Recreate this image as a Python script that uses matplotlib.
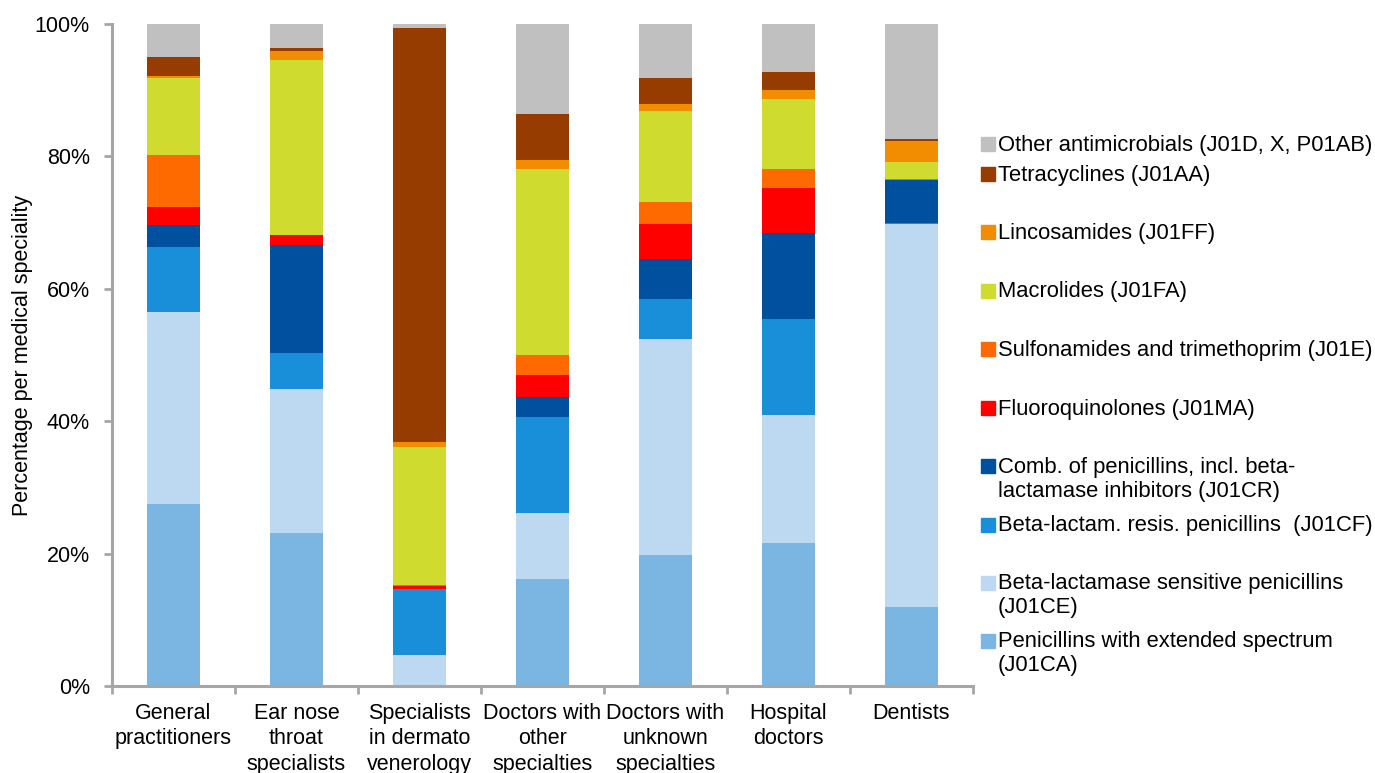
import numpy as np
import matplotlib
matplotlib.use("Agg")
import matplotlib.pyplot as plt
from matplotlib.patches import Rectangle

plt.rcParams["font.family"] = ["Liberation Sans", "DejaVu Sans"]

categories = ["General\npractitioners", "Ear nose\nthroat\nspecialists",
              "Specialists\nin dermato\nvenerology", "Doctors with\nother\nspecialties",
              "Doctors with\nunknown\nspecialties", "Hospital\ndoctors", "Dentists"]

# stacked from bottom to top, percentages per speciality
ext_spectrum   = [27.5, 23.1, 0.0, 16.1, 19.8, 21.6, 12.0]
beta_sensitive = [29.0, 21.7, 4.7, 10.1, 32.6, 19.3, 57.8]
beta_resistant = [9.8, 5.5, 9.9, 14.5, 6.1, 14.5, 0.1]
comb_penicill  = [3.3, 16.3, 0.1, 2.9, 6.0, 13.0, 6.6]
fluoroquinol   = [2.8, 1.5, 0.4, 3.4, 5.3, 6.9, 0.0]
sulfonamides   = [7.8, 0.1, 0.1, 3.0, 3.3, 2.8, 0.1]
macrolides     = [11.6, 26.3, 20.9, 28.1, 13.7, 10.6, 2.5]
lincosamides   = [0.3, 1.4, 0.8, 1.4, 1.1, 1.4, 3.3]
tetracyclines  = [2.9, 0.5, 62.5, 6.9, 3.9, 2.6, 0.2]
other_antimic  = [5.0, 3.7, 0.8, 13.6, 8.2, 7.3, 17.5]

series = [ext_spectrum, beta_sensitive, beta_resistant, comb_penicill, fluoroquinol,
          sulfonamides, macrolides, lincosamides, tetracyclines, other_antimic]
labels = ["Penicillins with extended spectrum\n(J01CA)",
          "Beta-lactamase sensitive penicillins\n(J01CE)",
          "Beta-lactam. resis. penicillins  (J01CF)",
          "Comb. of penicillins, incl. beta-\nlactamase inhibitors (J01CR)",
          "Fluoroquinolones (J01MA)",
          "Sulfonamides and trimethoprim (J01E)",
          "Macrolides (J01FA)",
          "Lincosamides (J01FF)",
          "Tetracyclines (J01AA)",
          "Other antimicrobials (J01D, X, P01AB)"]
colors = ["#7BB5E2", "#BDD9F1", "#1A8FD9", "#0050A0", "#FF0000",
          "#FF6A00", "#CFDB2E", "#F28C00", "#963C00", "#C0C0C0"]

W, H = 1375, 773
fig = plt.figure(figsize=(13.75, 7.73), dpi=100)
ax = fig.add_axes([112 / W, 1 - 686 / H, (973 - 112) / W, (686 - 24) / H])

x = np.arange(len(categories))
bottom = np.zeros(len(categories))
for vals, col in zip(series, colors):
    vals = np.array(vals)
    ax.bar(x, vals, 0.43, bottom=bottom, color=col, linewidth=0)
    bottom += vals

axis_col = "#A6A6A6"
ax.set_xlim(-0.5, 6.5)
ax.set_ylim(0, 100)
ax.set_yticks(range(0, 101, 20))
ax.set_yticklabels([f"{v}%" for v in range(0, 101, 20)], fontsize=15.5)
ax.set_xticks(x)
ax.set_xticklabels(categories, fontsize=15.5, linespacing=1.3)
ax.set_xticks(np.arange(-0.5, 7, 1), minor=True)
ax.tick_params(axis="x", which="major", length=0, pad=12)
ax.tick_params(axis="x", which="minor", length=6, width=2, color=axis_col)
ax.tick_params(axis="y", length=6, width=2, color=axis_col, pad=10)
for s in ["top", "right"]:
    ax.spines[s].set_visible(False)
for s in ["left", "bottom"]:
    ax.spines[s].set_color(axis_col)
    ax.spines[s].set_linewidth(2.2)
ax.set_ylabel("Percentage per medical speciality", fontsize=15.5)
ax.yaxis.set_label_coords(-0.092, 0.5)

# legend drawn by hand, top entry first
leg_y = [144, 174, 232, 291, 349, 408, 466, 525, 583, 641]
for yy, lab, col in zip(leg_y, labels[::-1], colors[::-1]):
    fig.patches.append(Rectangle((981 / W, 1 - (yy + 7) / H), 14 / W, 14 / H,
                                 transform=fig.transFigure, color=col))
    for k, line in enumerate(lab.split("\n")):
        fig.text(998 / W, 1 - (yy + 1 + 24 * k) / H, line, fontsize=15.8,
                 va="center", ha="left")

fig.savefig("out.png", dpi=100)
